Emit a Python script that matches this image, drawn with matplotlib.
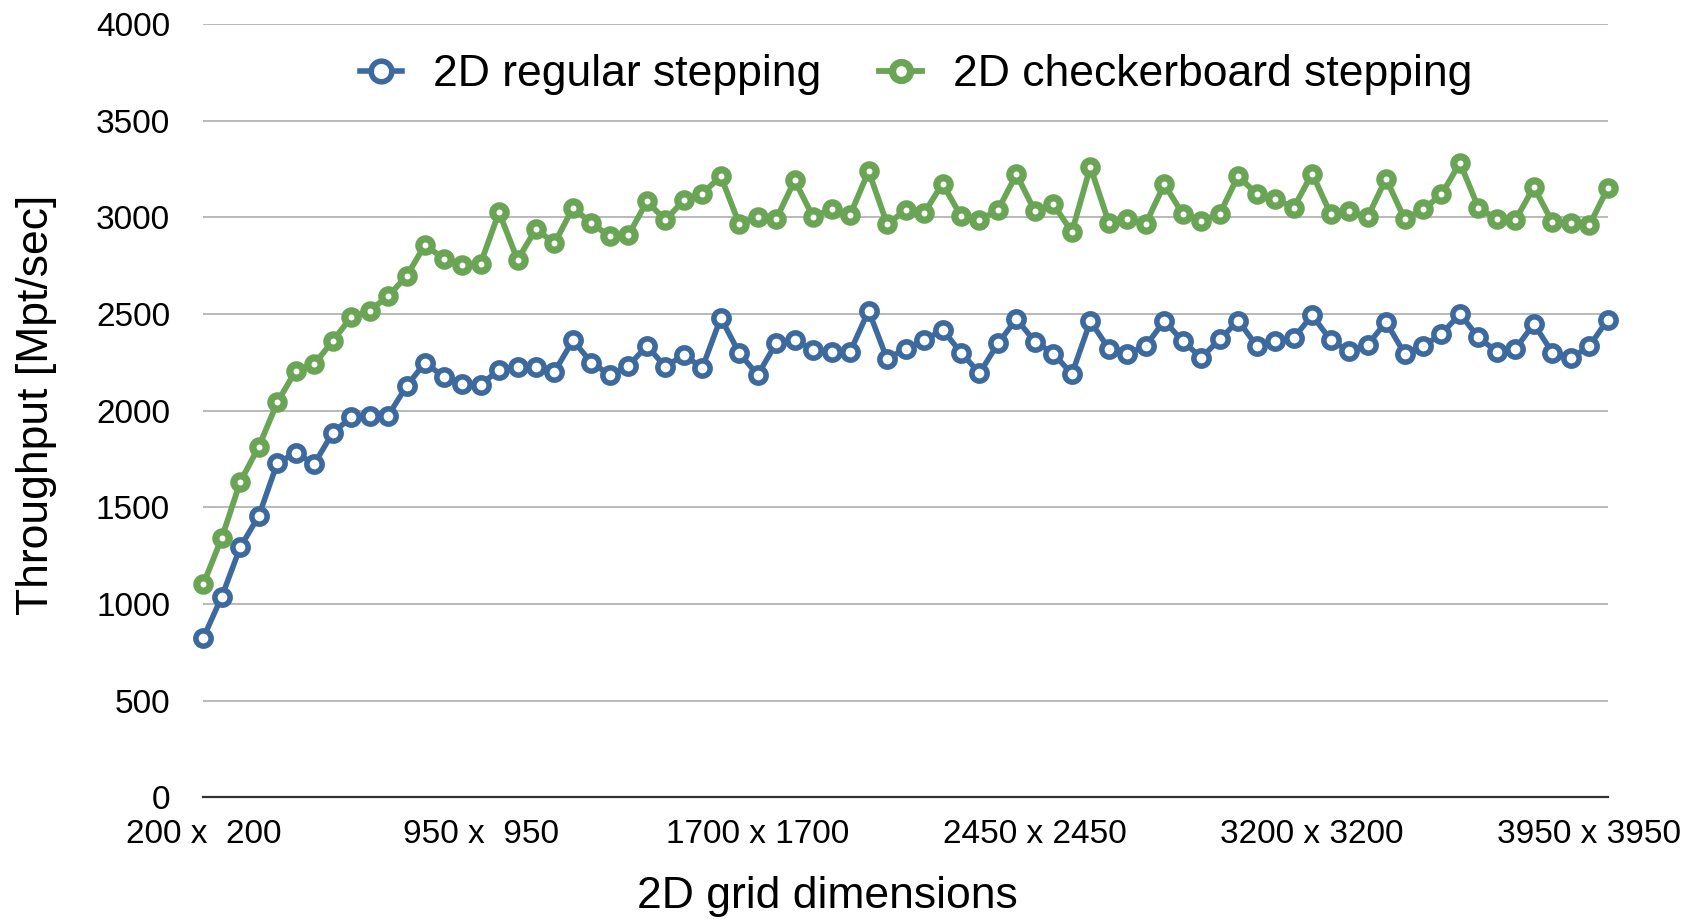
import matplotlib
matplotlib.use("Agg")
import matplotlib.pyplot as plt

plt.rcParams["font.family"] = ["Liberation Sans", "DejaVu Sans"]

# grid sizes 200..4000, step 50 (77 points)
sizes = list(range(200, 4001, 50))
tick_sizes = [200, 950, 1700, 2450, 3200, 3950]
tick_labels = ["200 x  200", "950 x  950", "1700 x 1700",
               "2450 x 2450", "3200 x 3200", "3950 x 3950"]

regular = [
    825, 1038, 1294, 1455, 1728, 1781, 1724, 1885, 1965, 1974,
    1974, 2127, 2248, 2175, 2135, 2134, 2210, 2224, 2224, 2201,
    2363, 2248, 2184, 2231, 2335, 2227, 2288, 2221, 2479, 2297,
    2184, 2349, 2366, 2311, 2304, 2304, 2517, 2266, 2321, 2363,
    2418, 2300, 2193, 2347, 2474, 2356, 2295, 2189, 2462, 2320,
    2295, 2335, 2464, 2359, 2274, 2368, 2465, 2335, 2358, 2375,
    2493, 2365, 2306, 2340, 2458, 2295, 2332, 2396, 2500, 2378,
    2304, 2320, 2448, 2300, 2271, 2333, 2471,
]
checker = [
    1103, 1342, 1632, 1813, 2042, 2207, 2241, 2359, 2484, 2516,
    2592, 2696, 2858, 2785, 2755, 2760, 3026, 2780, 2939, 2865,
    3049, 2969, 2901, 2906, 3082, 2986, 3087, 3122, 3212, 2965,
    3003, 2990, 3191, 3000, 3045, 3012, 3238, 2965, 3035, 3021,
    3174, 3005, 2986, 3038, 3222, 3030, 3066, 2924, 3260, 2972,
    2990, 2967, 3170, 3017, 2981, 3017, 3215, 3118, 3095, 3049,
    3226, 3017, 3030, 3000, 3200, 2991, 3040, 3118, 3281, 3049,
    2990, 2986, 3156, 2974, 2970, 2958, 3151,
]

blue = "#3D6A9E"
green = "#6AA555"

fig = plt.figure(figsize=(16.96, 9.19), dpi=100)
ax = fig.add_axes([0.1199, 0.1325, 0.8281, 0.8415])

x = list(range(len(sizes)))
ax.plot(x, regular, color=blue, lw=4.0, marker="o", ms=11.0, mew=4.0,
        mfc="white", mec=blue, clip_on=False, zorder=3,
        label="2D regular stepping")
ax.plot(x, checker, color=green, lw=4.2, marker="o", ms=9.6, mew=5.2,
        mfc="white", mec=green, clip_on=False, zorder=3,
        label="2D checkerboard stepping")

ax.set_xlim(0, len(sizes) - 1)
ax.set_ylim(0, 4000)
ax.set_yticks(range(0, 4001, 500))
ax.set_xticks([sizes.index(s) for s in tick_sizes])
ax.set_xticklabels(tick_labels)

ax.grid(axis="y", color="#B9B9B9", lw=1.4)
ax.set_axisbelow(True)
for side in ["left", "right", "top"]:
    ax.spines[side].set_visible(False)
ax.spines["bottom"].set_color("#333333")
ax.spines["bottom"].set_linewidth(1.6)
ax.tick_params(length=0, labelsize=24)
ax.tick_params(axis="y", pad=24)
ax.tick_params(axis="x", pad=16)

ax.set_ylabel("Throughput [Mpt/sec]", fontsize=32, va="center")
ax.yaxis.set_label_coords(-0.119, 0.507)
ax.set_xlabel("2D grid dimensions", fontsize=32, va="center")
ax.xaxis.set_label_coords(0.444, -0.128)

ax.legend(loc="center", bbox_to_anchor=(0.5075, 0.934), ncol=2, frameon=False,
          fontsize=32, handlelength=0.95, columnspacing=1.3, handletextpad=0.7,
          markerscale=1.35)

fig.savefig("out.png", dpi=100)
